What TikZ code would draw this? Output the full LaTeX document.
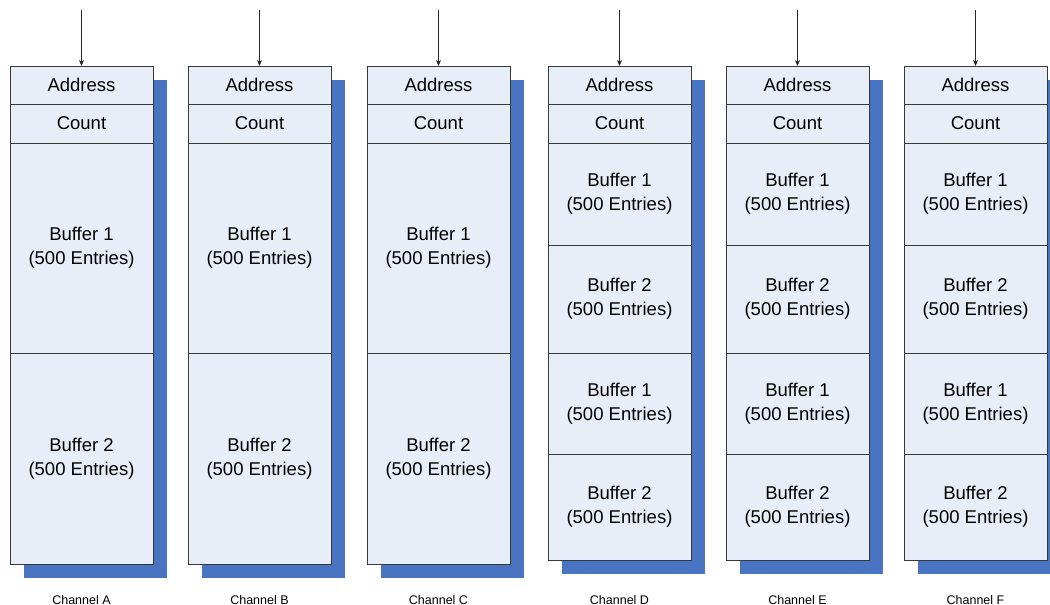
\documentclass[tikz,border=0pt]{standalone}
\usepackage{fontspec}
\setmainfont{Liberation Sans}
\usepackage{tikz}
\usetikzlibrary{arrows.meta,positioning}
\definecolor{CellFill}{HTML}{E8EEF7}
\definecolor{CellLine}{HTML}{383838}
\definecolor{ShadowBlue}{HTML}{4874C1}
\newcommand{\cellfont}{\fontsize{18.5}{24}\selectfont}

\begin{document}
\begin{tikzpicture}[
  x=1pt, y=-1pt,
  cell/.style={draw=CellLine, fill=CellFill, line width=0.9pt, inner sep=0pt,
               outer sep=0pt, minimum width=143pt, align=center, font=\cellfont},
  chlabel/.style={font=\fontsize{12.5}{14}\selectfont},
  feed/.style={draw=black!85, line width=0.8pt, -{Stealth[length=6pt,width=5pt]}},
  >=Stealth]
  \useasboundingbox (0,0) rectangle (1050,605);
  % channels with two buffers
  \foreach \ch/\x in {A/10,B/188,C/367}{
    \fill[ShadowBlue] (\x+14,80) rectangle (\x+157,578);
    \node[cell, minimum height=38pt, anchor=north] (\ch-addr) at (\x+71.5,66) {Address};
    \node[cell, minimum height=39pt, below=0pt of \ch-addr] (\ch-cnt) {Count};
    \node[cell, minimum height=210pt, below=0pt of \ch-cnt] (\ch-buf1) {Buffer 1\\(500 Entries)};
    \node[cell, minimum height=211pt, below=0pt of \ch-buf1] (\ch-buf2) {Buffer 2\\(500 Entries)};
    \coordinate (\ch-in) at (\x+71.5,10);
    \draw[feed] (\ch-in) -- (\ch-addr.north);
    \node[chlabel] (\ch-lbl) at (\x+71.5,600) {Channel \ch};
  }
  % channels with four buffers
  \foreach \ch/\x in {D/548,E/726,F/904}{
    \fill[ShadowBlue] (\x+14,80) rectangle (\x+157,574);
    \node[cell, minimum height=38pt, anchor=north] (\ch-addr) at (\x+71.5,66) {Address};
    \node[cell, minimum height=39pt, below=0pt of \ch-addr] (\ch-cnt) {Count};
    \node[cell, minimum height=102pt, below=0pt of \ch-cnt] (\ch-buf1) {Buffer 1\\(500 Entries)};
    \node[cell, minimum height=108pt, below=0pt of \ch-buf1] (\ch-buf2) {Buffer 2\\(500 Entries)};
    \node[cell, minimum height=101pt, below=0pt of \ch-buf2] (\ch-buf3) {Buffer 1\\(500 Entries)};
    \node[cell, minimum height=106pt, below=0pt of \ch-buf3] (\ch-buf4) {Buffer 2\\(500 Entries)};
    \coordinate (\ch-in) at (\x+71.5,10);
    \draw[feed] (\ch-in) -- (\ch-addr.north);
    \node[chlabel] (\ch-lbl) at (\x+71.5,600) {Channel \ch};
  }
\end{tikzpicture}
\end{document}
